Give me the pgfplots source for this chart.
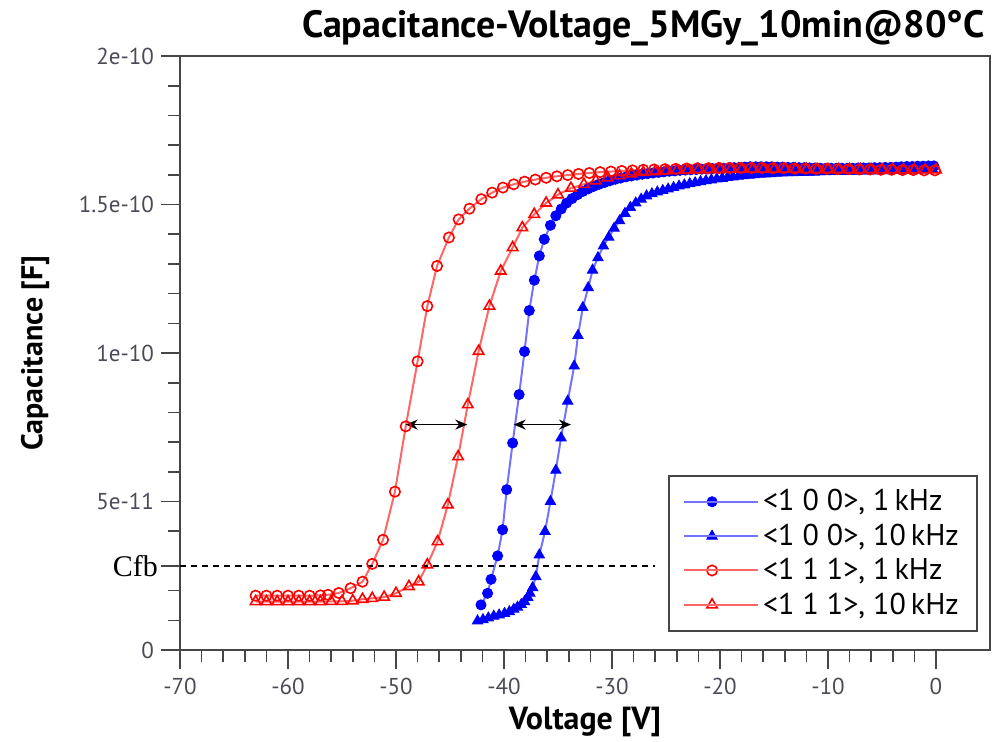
\documentclass[border=0pt]{standalone}
\usepackage{fontspec}
\setmainfont{PT Sans}
\newfontfamily\cfbfont{Liberation Serif}
\usepackage{pgfplots}
\usepackage{pgfplotstable}
\pgfplotsset{compat=1.18}
\usetikzlibrary{arrows.meta}
\definecolor{tickgray}{RGB}{75,75,88}
\definecolor{axgray}{RGB}{70,70,70}

% <1 0 0>, 1 kHz  (C in units of 1e-11 F)
\pgfplotstableread{
V C
-42.13 1.52
-41.52 1.91
-41.2 2.38
-40.59 3.17
-40.13 4.05
-39.75 5.40
-39.2 6.97
-38.6 8.60
-38.1 10.05
-37.66 11.43
-37.19 12.45
-36.73 13.27
-36.27 13.83
-35.7 14.30
-35.2 14.62
-34.7 14.85
-34.2 15.05
-33.7 15.20
-33.2 15.33
-32.7 15.44
-32.2 15.53
-31.7 15.61
-31.2 15.68
-30.7 15.74
-30.2 15.80
-29.7 15.85
-29.2 15.89
-28.7 15.93
-28.2 15.96
-27.7 15.99
-27.2 16.02
-26.7 16.04
-26.2 16.06
-25.7 16.08
-25.2 16.10
-24.7 16.12
-24.2 16.13
-23.7 16.15
-23.2 16.16
-22.7 16.17
-22.2 16.18
-21.7 16.19
-21.2 16.20
-20.7 16.21
-20.2 16.22
-19.7 16.22
-19.2 16.23
-18.7 16.24
-18.2 16.25
-17.7 16.26
-17.2 16.27
-16.7 16.27
-16.2 16.27
-15.7 16.27
-15.2 16.27
-14.7 16.26
-14.2 16.26
-13.7 16.25
-13.2 16.25
-12.7 16.24
-12.2 16.24
-11.7 16.23
-11.2 16.23
-10.7 16.22
-10.2 16.22
-9.7 16.22
-9.2 16.22
-8.7 16.22
-8.2 16.22
-7.7 16.22
-7.2 16.23
-6.7 16.23
-6.2 16.23
-5.7 16.24
-5.2 16.24
-4.7 16.25
-4.2 16.25
-3.7 16.26
-3.2 16.27
-2.7 16.28
-2.2 16.28
-1.7 16.29
-1.2 16.29
-0.7 16.30
-0.2 16.30
}\bone

% <1 0 0>, 10 kHz
\pgfplotstableread{
V C
-42.45 0.98
-41.95 1.02
-41.45 1.08
-40.95 1.14
-40.45 1.18
-39.95 1.23
-39.5 1.29
-39.1 1.37
-38.75 1.44
-38.4 1.53
-38.1 1.63
-37.8 1.77
-37.6 1.91
-37.35 2.10
-37.05 2.47
-36.73 3.20
-36.2 3.99
-35.7 5.00
-35.2 6.05
-34.72 7.14
-34.1 8.38
-33.5 9.56
-33.15 10.59
-32.7 11.53
-32.2 12.20
-31.8 12.79
-31.3 13.21
-30.8 13.60
-30.3 13.90
-29.8 14.20
-29.3 14.45
-28.8 14.70
-28.3 14.90
-27.8 15.05
-27.3 15.18
-26.8 15.29
-26.3 15.36
-25.8 15.42
-25.3 15.47
-24.8 15.52
-24.3 15.57
-23.8 15.62
-23.3 15.66
-22.8 15.70
-22.3 15.73
-21.8 15.77
-21.3 15.80
-20.8 15.83
-20.3 15.86
-19.8 15.88
-19.3 15.91
-18.8 15.93
-18.3 15.95
-17.8 15.97
-17.3 15.99
-16.8 16.00
-16.3 16.02
-15.8 16.03
-15.3 16.04
-14.8 16.05
-14.3 16.06
-13.8 16.07
-13.3 16.07
-12.8 16.08
-12.3 16.08
-11.8 16.09
-11.3 16.09
-10.8 16.10
-10.3 16.10
-9.8 16.11
-9.3 16.11
-8.8 16.11
-8.3 16.12
-7.8 16.12
-7.3 16.12
-6.8 16.13
-6.3 16.13
-5.8 16.13
-5.3 16.14
-4.8 16.14
-4.3 16.14
-3.8 16.15
-3.3 16.15
-2.8 16.15
-2.3 16.16
-1.8 16.16
-1.3 16.16
-0.8 16.17
-0.3 16.17
}\btwo

% <1 1 1>, 1 kHz
\pgfplotstableread{
V C
-63 1.83
-62 1.83
-61 1.83
-60 1.83
-59 1.83
-58 1.83
-57 1.84
-56.3 1.86
-55.3 1.92
-54.2 2.08
-53.1 2.30
-52.2 2.90
-51.2 3.71
-50.1 5.33
-49.1 7.53
-48.0 9.72
-47.1 11.58
-46.2 12.93
-45.1 13.89
-44.2 14.50
-43.2 14.86
-42.1 15.18
-41.1 15.40
-40.1 15.57
-39.1 15.68
-38.1 15.77
-37.1 15.84
-36.1 15.90
-35.1 15.95
-34.1 15.99
-33.1 16.03
-32.1 16.06
-31.1 16.09
-30.1 16.11
-29.1 16.13
-28.1 16.15
-27.1 16.17
-26.1 16.18
-25.1 16.19
-24.1 16.20
-23.1 16.21
-22.1 16.22
-21.1 16.22
-20.1 16.23
-19.1 16.23
-18.1 16.23
-17.1 16.23
-16.1 16.23
-15.1 16.22
-14.1 16.22
-13.1 16.21
-12.1 16.21
-11.1 16.20
-10.1 16.20
-9.1 16.19
-8.1 16.19
-7.1 16.18
-6.1 16.18
-5.1 16.17
-4.1 16.17
-3.1 16.16
-2.1 16.16
-1.1 16.15
-0.1 16.15
}\rone

% <1 1 1>, 10 kHz
\pgfplotstableread{
V C
-63 1.63
-62 1.63
-61 1.63
-60 1.63
-59 1.63
-58 1.63
-57 1.63
-56 1.64
-55 1.64
-54 1.66
-53.1 1.71
-52.2 1.74
-51.1 1.78
-50.0 1.91
-48.8 2.14
-47.9 2.30
-47.1 2.87
-46.15 3.65
-45.2 4.89
-44.25 6.51
-43.35 8.26
-42.35 10.06
-41.35 11.58
-40.3 12.76
-39.2 13.55
-38.3 14.22
-37.2 14.67
-36.1 15.05
-35.0 15.33
-33.8 15.55
-32.6 15.68
-31.5 15.80
-30.4 15.90
-29.3 15.97
-28.2 16.03
-27.1 16.08
-26.0 16.11
-25.0 16.13
-24.0 16.15
-23.0 16.16
-22.0 16.17
-21.0 16.18
-20.0 16.18
-19.0 16.19
-18.0 16.19
-17.0 16.19
-16.0 16.19
-15.0 16.19
-14.0 16.19
-13.0 16.19
-12.0 16.18
-11.0 16.18
-10.0 16.18
-9.0 16.18
-8.0 16.18
-7.0 16.18
-6.0 16.18
-5.0 16.17
-4.0 16.17
-3.0 16.17
-2.0 16.17
-1.0 16.17
0.0 16.17
}\rtwo

\begin{document}
\begin{tikzpicture}
\path[use as bounding box] (-90pt,-45.5pt) rectangle (407pt,325pt);
\begin{axis}[
  at={(0,0)}, anchor=south west,
  scale only axis, width=405pt, height=297pt,
  xmin=-70, xmax=5, ymin=0, ymax=20,
  xtick={-70,-60,...,0},
  xticklabels={-70,-60,-50,-40,-30,-20,-10,0},
  minor x tick num=4,
  ytick={0,5,10,15,20},
  yticklabels={0,5e-11,1e-10,1.5e-10,2e-10},
  minor ytick={1,2,4,6,7,8,9,11,12,13,14,16,17,18,19},
  extra y ticks={2.83},
  extra y tick labels={Cfb},
  extra y tick style={yticklabel style={font=\cfbfont\fontsize{15}{17}\selectfont, text=black, xshift=2pt}},
  xtick pos=bottom, ytick pos=left,
  tick align=outside,
  major tick length=9.5pt, minor tick length=6pt,
  every tick/.style={axgray, line width=0.8pt},
  axis line style={axgray, line width=0.9pt},
  tick label style={font=\fontsize{11.5}{13}\selectfont, text=tickgray},
  xticklabel style={yshift=-1pt},
  xlabel={Voltage [V]}, ylabel={Capacitance [F]},
  label style={font=\bfseries\fontsize{15}{17}\selectfont},
  xlabel style={at={(axis description cs:0.5,-0.121)}, anchor=center, font=\bfseries\fontsize{16}{18}\selectfont},
  ylabel style={at={(axis description cs:-0.179,0.5)}, anchor=center},
  legend style={at={(axis description cs:0.985,0.0303)}, anchor=south east,
    draw=axgray, line width=1pt, font=\fontsize{15}{17}\selectfont,
    row sep=1pt, inner xsep=7pt, inner ysep=5pt},
  legend cell align=left,
  legend image code/.code={\draw[mark repeat=2,mark phase=2,#1] plot coordinates {(0pt,0pt) (14pt,0pt) (28pt,0pt)};
    \path (0pt,0pt) -- (37pt,0pt);},
]
\addplot[color=blue!55, line width=1pt, mark=*, mark size=2.5pt,
  mark options={draw=blue, fill=blue, line width=0.5pt}] table[x=V,y=C] {\bone};
\addlegendentry{<1 0 0>, 1\,kHz}
\addplot[color=blue!55, line width=1pt, mark=triangle*, mark size=2.9pt,
  mark options={draw=blue, fill=blue, line width=0.5pt}] table[x=V,y=C] {\btwo};
\addlegendentry{<1 0 0>, 10\,kHz}
\addplot[color=red!60, line width=1pt, mark=o, mark size=2.6pt,
  mark options={draw=red, line width=0.8pt}] table[x=V,y=C] {\rone};
\addlegendentry{<1 1 1>, 1\,kHz}
\addplot[color=red!60, line width=1pt, mark=triangle, mark size=3pt,
  mark options={draw=red, line width=0.8pt}] table[x=V,y=C] {\rtwo};
\addlegendentry{<1 1 1>, 10\,kHz}
\addplot[black, line width=1pt, dash pattern=on 3pt off 2.5pt, forget plot]
  coordinates {(-70,2.83) (-26,2.83)};
\addplot[black, line width=0.8pt, {Stealth[length=6pt,width=5pt]}-{Stealth[length=6pt,width=5pt]}, forget plot]
  coordinates {(-49.1,7.59) (-43.4,7.59)};
\addplot[black, line width=0.8pt, {Stealth[length=6pt,width=5pt]}-{Stealth[length=6pt,width=5pt]}, forget plot]
  coordinates {(-39.1,7.59) (-33.8,7.59)};
\end{axis}
\node[anchor=east, font=\bfseries\fontsize{19}{22}\selectfont, inner sep=0pt] at (402.5pt,311pt)
  {Capacitance-Voltage\_5MGy\_10min@80°C};
\end{tikzpicture}
\end{document}
